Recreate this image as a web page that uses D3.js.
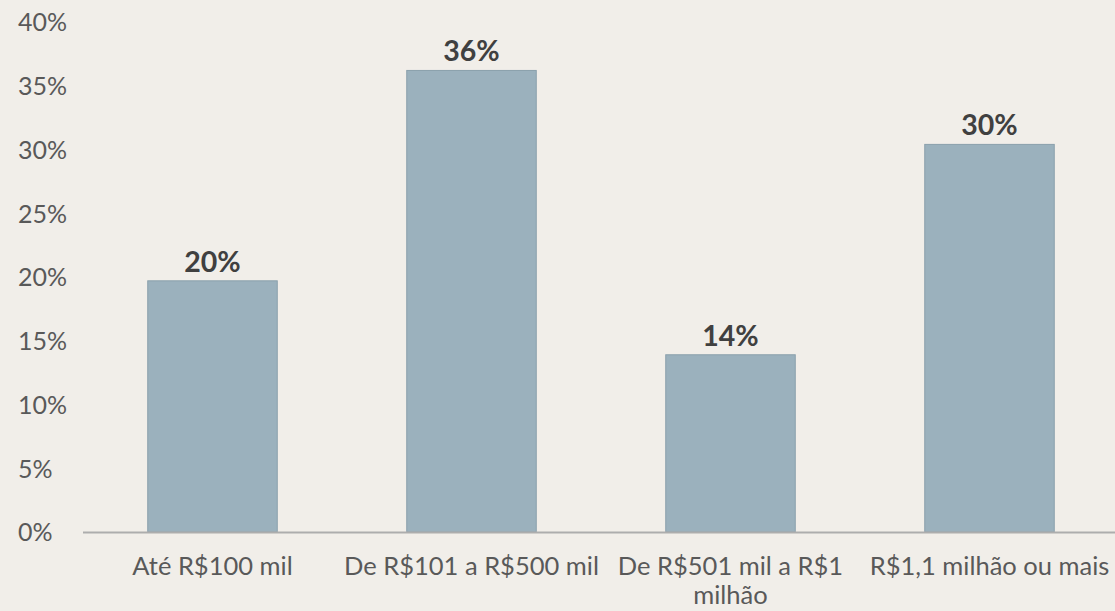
<!DOCTYPE html>
<html><head><meta charset="utf-8">
<script src="https://cdn.jsdelivr.net/npm/d3@7"></script>
<style>body{margin:0;background:#f1eee9;}svg{display:block;}</style>
</head><body><svg id="c" width="1115" height="611"></svg>
<script>
const categories = ["Até R$100 mil", "De R$101 a R$500 mil", "De R$501 mil a R$1 milhão", "R$1,1 milhão ou mais"];
const values = [0.197, 0.362, 0.139, 0.304];
const valueLabels = ["20%", "36%", "14%", "30%"];
const yTicks = [0, 0.05, 0.10, 0.15, 0.20, 0.25, 0.30, 0.35, 0.40];

const svg = d3.select("#c");
svg.append("rect").attr("width",1115).attr("height",611).attr("fill","#f1eee9");
const x = d3.scaleBand().domain(categories).range([83, 1119]).paddingInner(0.5).paddingOuter(0.25);
const y = d3.scaleLinear().domain([0, 0.40]).range([532, 22]);
const font = "Lato, 'Open Sans', sans-serif";

// y axis labels
const ya = svg.append("g").attr("transform","translate(18,0)")
  .call(d3.axisLeft(y).tickValues(yTicks).tickFormat(d3.format(".0%")).tickSize(0).tickPadding(0));
ya.select(".domain").remove();
ya.selectAll("text").attr("text-anchor","start").attr("x",0).attr("dy","0.35em")
  .attr("font-family",font).attr("font-size",25).attr("fill","#595959");

// bars
svg.selectAll("rect.bar").data(categories).enter().append("rect").attr("class","bar")
  .attr("x", d=>x(d)).attr("width", x.bandwidth())
  .attr("y", (d,i)=>y(values[i])).attr("height",(d,i)=>y(0)-y(values[i]))
  .attr("fill","#9bb1bd").attr("stroke","#8aa0ac").attr("stroke-width",1);

// x axis
const xa = svg.append("g").attr("transform","translate(0,532)")
  .call(d3.axisBottom(x).tickSize(0).tickPadding(0));
xa.select(".domain").remove();
xa.selectAll("text").remove();
svg.append("line").attr("x1",83).attr("x2",1115).attr("y1",532.5).attr("y2",532.5)
  .attr("stroke","#adadad").attr("stroke-width",2);

// category labels with wrapping
const catLines = categories.map(c => c === "De R$501 mil a R$1 milhão" ? ["De R$501 mil a R$1","milhão"] : [c]);
categories.forEach((c,i)=>{
  const t = svg.append("text").attr("x", x(c)+x.bandwidth()/2).attr("y",575)
    .attr("text-anchor","middle").attr("font-family",font).attr("font-size",25.5).attr("fill","#595959");
  catLines[i].forEach((l,j)=>t.append("tspan").attr("x",x(c)+x.bandwidth()/2).attr("dy", j?29:0).text(l));
});

// value labels
svg.selectAll("text.val").data(categories).enter().append("text").attr("class","val")
  .attr("x", d=>x(d)+x.bandwidth()/2).attr("y",(d,i)=>y(values[i])-9)
  .attr("text-anchor","middle").attr("font-family",font).attr("font-weight","bold")
  .attr("font-size",28.5).attr("fill","#404040").text((d,i)=>valueLabels[i]);
</script></body></html>
